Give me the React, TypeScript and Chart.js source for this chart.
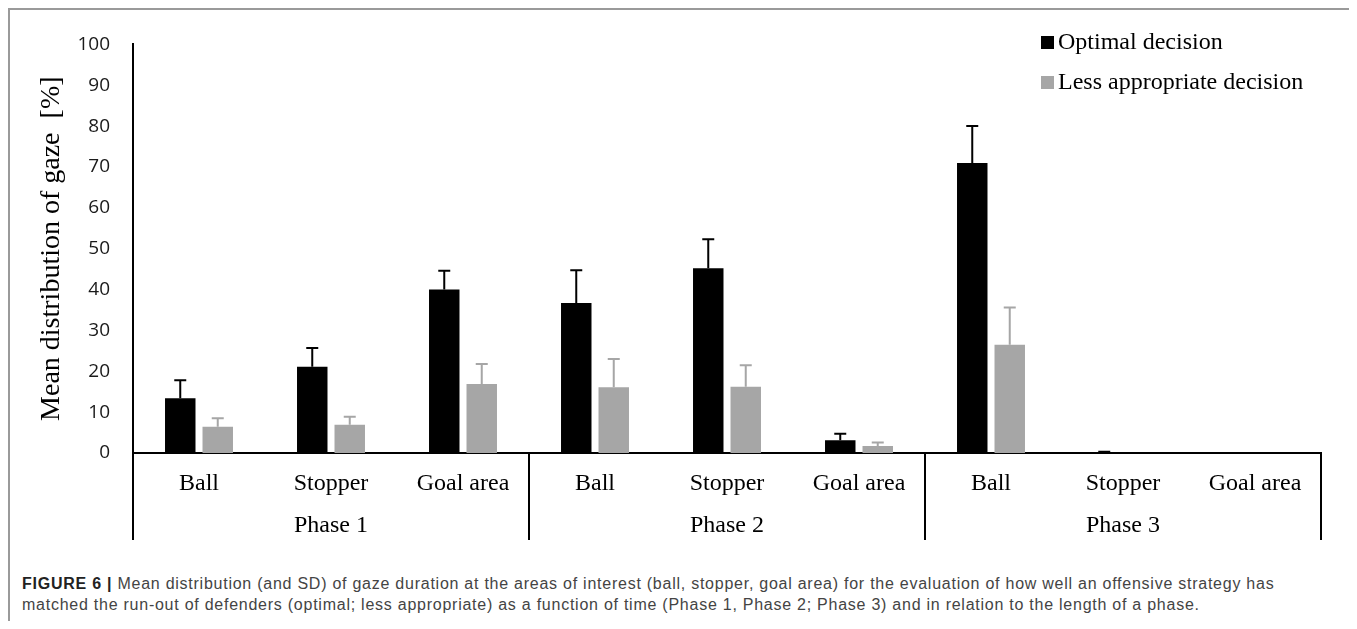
import React, { useEffect, useRef } from "react";
import { Chart, registerables } from "chart.js";

Chart.register(...registerables);

const categories = ["Ball", "Stopper", "Goal area", "Ball", "Stopper", "Goal area", "Ball", "Stopper", "Goal area"];
const phases = ["Phase 1", "Phase 2", "Phase 3"];
const seriesNames = ["Optimal decision", "Less appropriate decision"];
const optimal = [13.4, 21.1, 40.0, 36.7, 45.2, 3.1, 71.0, 0.1, 0];
const optimalSD = [4.4, 4.6, 4.6, 8.0, 7.1, 1.6, 9.0, 0.2, 0];
const lessAppropriate = [6.4, 6.9, 16.9, 16.1, 16.2, 1.7, 26.5, 0, 0];
const lessAppropriateSD = [2.1, 2.0, 4.9, 6.9, 5.3, 0.9, 9.1, 0, 0];
const yTicks = [0, 10, 20, 30, 40, 50, 60, 70, 80, 90, 100];

const BLACK = "#000000";
const GRAY = "#a6a6a6";
const SERIF = "'Liberation Serif', 'Times New Roman', serif";

const errorBarPlugin = {
  id: "errorBars",
  afterDatasetsDraw(chart: any) {
    const ctx = chart.ctx;
    const y = chart.scales.y;
    const sds = [optimalSD, lessAppropriateSD];
    const colors = [BLACK, GRAY];
    chart.data.datasets.forEach((ds: any, di: number) => {
      const meta = chart.getDatasetMeta(di);
      meta.data.forEach((el: any, i: number) => {
        const sd = sds[di][i];
        if (!sd) return;
        const top = y.getPixelForValue(ds.data[i] + sd);
        const base = y.getPixelForValue(ds.data[i]);
        ctx.save();
        ctx.strokeStyle = colors[di];
        ctx.lineWidth = 2;
        ctx.beginPath();
        ctx.moveTo(el.x, base);
        ctx.lineTo(el.x, top);
        ctx.moveTo(el.x - 6, top);
        ctx.lineTo(el.x + 6, top);
        ctx.stroke();
        ctx.restore();
      });
    });
  },
};

const groupPlugin = {
  id: "groups",
  afterDraw(chart: any) {
    const ctx = chart.ctx;
    const x = chart.scales.x;
    const area = chart.chartArea;
    const bottom = area.bottom + 87;
    ctx.save();
    ctx.strokeStyle = "#000";
    ctx.lineWidth = 2;
    const per = categories.length / phases.length;
    const bounds: number[] = [area.left];
    for (let p = 1; p < phases.length; p++) {
      bounds.push((x.getPixelForValue(p * per - 1) + x.getPixelForValue(p * per)) / 2);
    }
    bounds.push(area.right);
    ctx.beginPath();
    bounds.forEach((bx) => {
      ctx.moveTo(bx, area.bottom);
      ctx.lineTo(bx, bottom);
    });
    ctx.stroke();
    ctx.fillStyle = "#000";
    ctx.font = `24px ${SERIF}`;
    ctx.textAlign = "center";
    ctx.textBaseline = "middle";
    phases.forEach((ph, p) => {
      const cx = (x.getPixelForValue(p * per) + x.getPixelForValue(p * per + per - 1)) / 2;
      ctx.fillText(ph, cx, area.bottom + 73);
    });

    // legend
    const colors = [BLACK, GRAY];
    ctx.textAlign = "left";
    seriesNames.forEach((name, i) => {
      const cy = 32 + i * 40;
      ctx.fillStyle = colors[i];
      ctx.fillRect(1031, cy - 6, 13, 13);
      ctx.fillStyle = "#000";
      ctx.fillText(name, 1048, cy + 1);
    });
    ctx.restore();
  },
};

export default function App() {
  const ref = useRef<HTMLCanvasElement>(null);
  useEffect(() => {
    if (!ref.current) return;
    const chart = new Chart(ref.current, {
      type: "bar",
      data: {
        labels: categories,
        datasets: [
          {
            label: seriesNames[0],
            data: optimal,
            backgroundColor: BLACK,
            categoryPercentage: 0.568,
            barPercentage: 0.813,
          },
          {
            label: seriesNames[1],
            data: lessAppropriate,
            backgroundColor: GRAY,
            categoryPercentage: 0.568,
            barPercentage: 0.813,
          },
        ],
      },
      options: {
        animation: false,
        responsive: false,
        maintainAspectRatio: false,
        layout: { padding: { top: 22, right: 32, bottom: 0, left: 0 } },
        plugins: { legend: { display: false }, tooltip: { enabled: false } },
        scales: {
          x: {
            grid: { display: false, drawTicks: false },
            border: { display: true, color: "#000", width: 2 },
            ticks: { color: "#000", font: { family: SERIF, size: 24 }, padding: 16, maxRotation: 0, autoSkip: false },
            afterFit: (s: any) => { s.height = 105; },
          },
          y: {
            min: 0,
            max: 100,
            afterBuildTicks: (s: any) => { s.ticks = yTicks.map((v) => ({ value: v })); },
            grid: { display: false, drawTicks: false },
            border: { display: true, color: "#000", width: 2 },
            ticks: { color: "#1a1a1a", font: { family: "'Open Sans', sans-serif", size: 19 }, padding: 23 },
            title: {
              display: true,
              text: "Mean distribution of gaze  [%]",
              color: "#000",
              font: { family: SERIF, size: 28 },
              padding: { top: 25, bottom: 0 },
            },
            afterFit: (s: any) => { s.width = 123; },
          },
        },
      },
      plugins: [errorBarPlugin, groupPlugin],
    });
    return () => chart.destroy();
  }, []);

  return (
    <div
      style={{
        boxSizing: "border-box",
        width: 1347,
        height: 613,
        borderTop: "2px solid #9a9a9a",
        borderLeft: "2px solid #9a9a9a",
        borderRight: "2px solid #9a9a9a",
        overflow: "hidden",
      }}
    >
      <canvas ref={ref} width={1343} height={548} style={{ display: "block", width: 1343, height: 548 }} />
      <div
        style={{
          marginTop: 15,
          paddingLeft: 12,
          fontFamily: "'Liberation Sans', Arial, sans-serif",
          fontSize: 16,
          letterSpacing: "0.75px",
          lineHeight: "21px",
          color: "#444",
          whiteSpace: "nowrap",
        }}
      >
        <b style={{ color: "#222" }}>FIGURE 6 |</b> Mean distribution (and SD) of gaze duration at the areas of interest (ball, stopper, goal area) for the evaluation of how well an offensive strategy has
        <br />
        matched the run-out of defenders (optimal; less appropriate) as a function of time (Phase 1, Phase 2; Phase 3) and in relation to the length of a phase.
      </div>
    </div>
  );
}
